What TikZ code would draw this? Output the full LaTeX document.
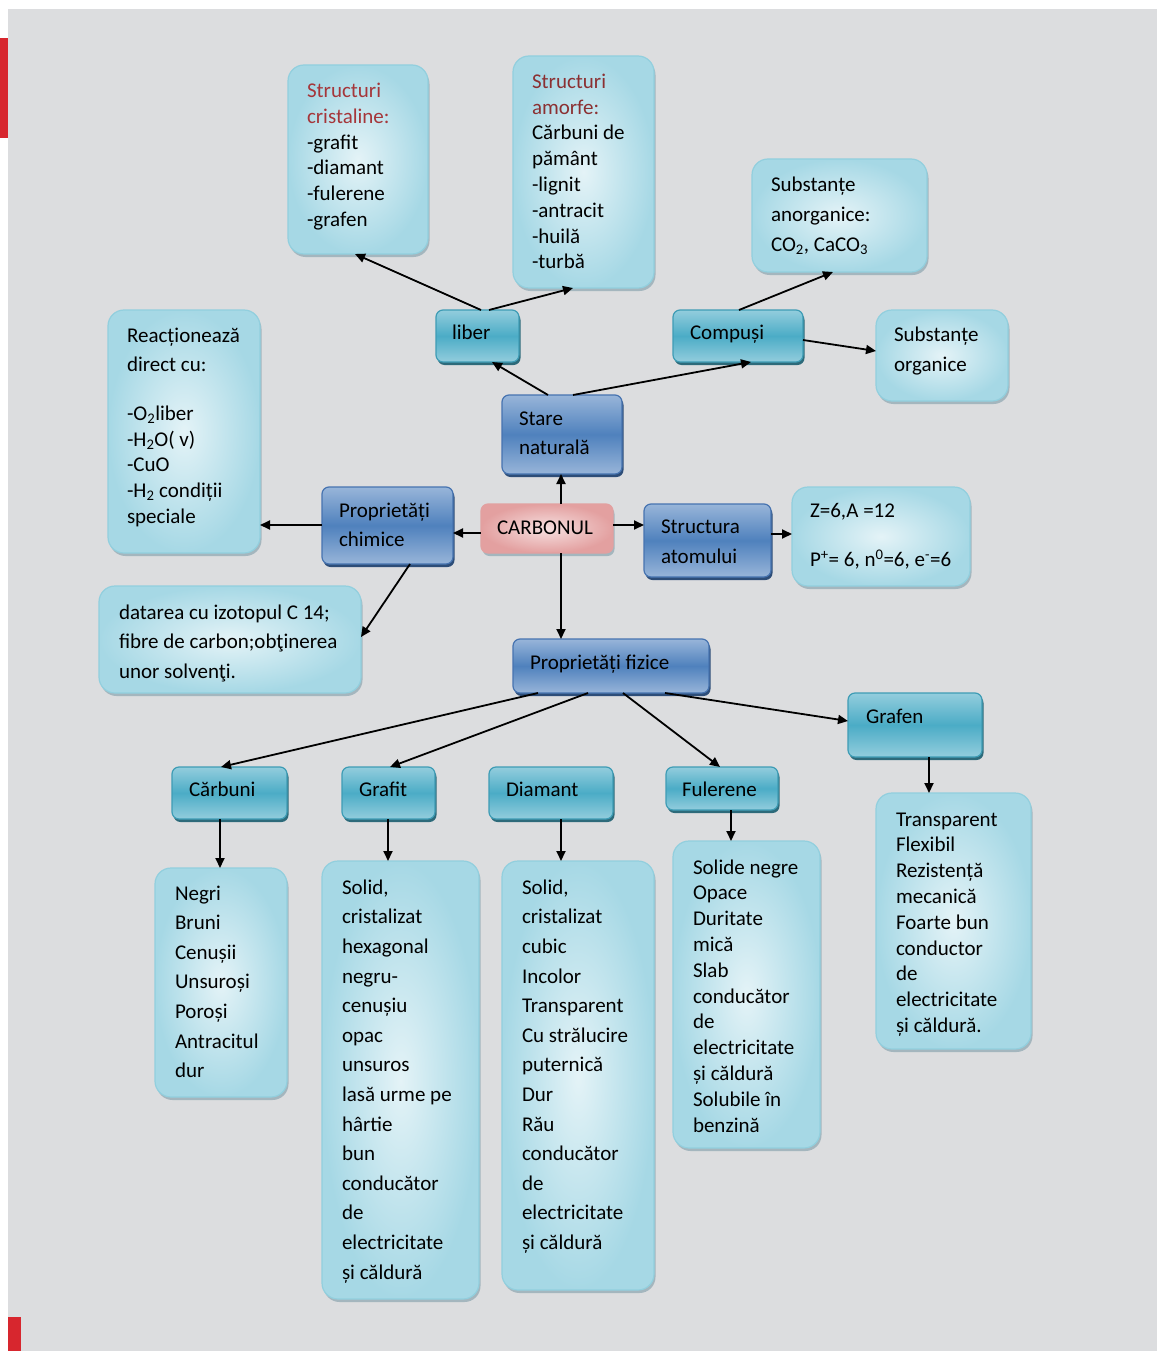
\documentclass[tikz,border=0pt]{standalone}
\usepackage{fontspec}
\setmainfont{Carlito}
\usetikzlibrary{arrows.meta,calc,shadows}
\definecolor{bgc}{HTML}{DCDDDF}
\definecolor{redbar}{HTML}{D7262E}
\definecolor{infoB}{HTML}{92CFDE}
\definecolor{infoIn}{HTML}{E4F3F7}
\definecolor{infoOut}{HTML}{A6D8E5}
\definecolor{infoSh}{HTML}{A4B6BE}
\definecolor{catB}{HTML}{3E9CB5}
\definecolor{catL}{HTML}{93CDDD}
\definecolor{catM}{HTML}{4BACC6}
\definecolor{catSh}{HTML}{2D6A7A}
\definecolor{bluB}{HTML}{4673B0}
\definecolor{bluL}{HTML}{98B5D9}
\definecolor{bluM}{HTML}{4F81BD}
\definecolor{bluSh}{HTML}{2D4D78}
\definecolor{pinkB}{HTML}{E2A0A0}
\definecolor{pinkIn}{HTML}{F6E0E0}
\definecolor{pinkOut}{HTML}{E3A0A0}
\definecolor{redA}{HTML}{A5363A}
\definecolor{redB}{HTML}{8B3032}
\newcommand{\mybox}[6]{\node[#1, minimum width={#5-#3}, minimum height={#6-#4}] (#2) at ({(#3+#5)/2},{(#4+#6)/2}) {};}
\newcommand{\tl}[1]{\begin{tabular}[t]{@{}l@{}}#1\end{tabular}}
\begin{document}
\begin{tikzpicture}[x=1pt,y=-1pt,
  box/.style={draw, inner sep=0pt, outer sep=0pt, line width=1.2pt},
  info/.style={box, rounded corners=16pt, draw=infoB, inner color=infoIn, outer color=infoOut,
    drop shadow={shadow xshift=1.5pt, shadow yshift=-3pt, fill=infoSh, opacity=1}},
  cat/.style={box, rounded corners=7pt, draw=catB, top color=catL, bottom color=catL, middle color=catM,
    drop shadow={shadow xshift=1.5pt, shadow yshift=-3pt, fill=catSh, opacity=1}},
  blu/.style={box, rounded corners=7pt, draw=bluB, top color=bluL, bottom color=bluL, middle color=bluM,
    drop shadow={shadow xshift=1.5pt, shadow yshift=-3pt, fill=bluSh, opacity=1}},
  pnk/.style={box, rounded corners=7pt, draw=pinkB, inner color=pinkIn, outer color=pinkOut,
    drop shadow={shadow xshift=1.5pt, shadow yshift=-3pt, fill=infoSh, opacity=1}},
  txt/.style={anchor=base west, inner sep=0pt, outer sep=0pt, font=\fontsize{21}{25.8}\selectfont},
  txtw/.style={txt, font=\fontsize{21}{29.6}\selectfont},
  arr/.style={-{Triangle[length=10pt,width=9pt]}, line width=1.8pt, black}]
\useasboundingbox (0,0) rectangle (1157,1351);
\fill[white] (0,0) rectangle (1157,1351);
\fill[bgc] (8,9) rectangle (1157,1351);
\fill[redbar] (0,38) rectangle (8,138);
\fill[redbar] (8,1317) rectangle (21,1351);

% boxes
\mybox{info}{cris}{288}{65}{428}{254}
\mybox{info}{amor}{513}{56}{654}{288}
\mybox{info}{anorg}{752}{159}{927}{272}
\mybox{cat}{liber}{436}{310}{519}{362}
\mybox{cat}{comp}{673}{310}{803}{362}
\mybox{info}{org}{876}{310}{1008}{401}
\mybox{info}{react}{108}{310}{260}{553}
\mybox{blu}{stare}{502}{395}{622}{474}
\mybox{blu}{chim}{322}{487}{453}{564}
\mybox{pnk}{carb}{481}{504}{613}{553}
\mybox{blu}{struct}{644}{504}{771}{577}
\mybox{info}{zbox}{792}{487}{970}{586}
\mybox{info}{dat}{99}{586}{361}{693}
\mybox{blu}{fiz}{513}{639}{709}{693}
\mybox{cat}{grafen}{848}{693}{982}{757}
\mybox{cat}{carbuni}{172}{767}{287}{819}
\mybox{cat}{grafit}{342}{767}{435}{819}
\mybox{cat}{diam}{489}{767}{613}{819}
\mybox{cat}{ful}{666}{767}{778}{810}
\mybox{info}{carbuniI}{155}{868}{287}{1097}
\mybox{info}{grafitI}{322}{861}{479}{1299}
\mybox{info}{diamI}{502}{861}{654}{1290}
\mybox{info}{fulI}{673}{841}{820}{1148}
\mybox{info}{grafenI}{876}{793}{1031}{1049}

% texts
\node[txt] (cris-t) at (307,97.5) {\tl{\textcolor{redA}{Structuri}\\\textcolor{redA}{cristaline:}\\-grafit\\-diamant\\-fulerene\\-grafen}};
\node[txt] (amor-t) at (532,88.3) {\tl{\textcolor{redB}{Structuri}\\\textcolor{redB}{amorfe:}\\Cărbuni de\\pământ\\-lignit\\-antracit\\-huilă\\-turbă}};
\node[txt, font=\fontsize{21}{30}\selectfont] (anorg-t) at (771,191.7) {\tl{Substanțe\\anorganice:\\CO\textsubscript{2}, CaCO\textsubscript{3}}};
\node[txt] (liber-t) at (452,339.3) {liber};
\node[txt] (comp-t) at (690,339) {Compuși};
\node[txt, font=\fontsize{21}{30}\selectfont] (org-t) at (894,341) {\tl{Substanțe\\organice}};
\node[txt, font=\fontsize{21}{25.6}\selectfont] (react-t) at (127,342.7) {\tl{Reacționează\\[3.4pt]direct cu:\\[23.4pt]-O\textsubscript{2}liber\\-H\textsubscript{2}O( v)\\-CuO\\-H\textsubscript{2} condiții\\speciale}};
\node[txt, font=\fontsize{21}{29.4}\selectfont] (stare-t) at (519,425) {\tl{Stare\\naturală}};
\node[txt, font=\fontsize{21}{29.4}\selectfont] (chim-t) at (339,517.3) {\tl{Proprietăți\\chimice}};
\node[txt] (carb-t) at (497,534) {CARBONUL};
\node[txt, font=\fontsize{21}{30}\selectfont] (struct-t) at (661,533.3) {\tl{Structura\\atomului}};
\node[txt, font=\fontsize{21}{49.4}\selectfont] (zbox-t) at (810,517.3) {\tl{Z=6,A =12\\P\textsuperscript{+}= 6, n\textsuperscript{0}=6, e\textsuperscript{-}=6}};
\node[txt, font=\fontsize{21}{29.5}\selectfont] (dat-t) at (119,619.3) {\tl{datarea cu izotopul C 14;\\fibre de carbon;obţinerea\\unor solvenţi.}};
\node[txt] (fiz-t) at (530,669) {Proprietăți fizice};
\node[txt] (grafen-t) at (866,723.3) {Grafen};
\node[txt] (carbuni-t) at (189,796.7) {Cărbuni};
\node[txt] (grafit-t) at (359,796.7) {Grafit};
\node[txt] (diam-t) at (506,796.7) {Diamant};
\node[txt] (ful-t) at (682,796.7) {Fulerene};
\node[txtw] (carbuniI-t) at (175,900) {\tl{Negri\\Bruni\\Cenușii\\Unsuroși\\Poroși\\Antracitul\\dur}};
\node[txtw] (grafitI-t) at (342,894.3) {\tl{Solid,\\cristalizat\\hexagonal\\negru-\\cenușiu\\opac\\unsuros\\lasă urme pe\\hârtie\\bun\\conducător\\de\\electricitate\\și căldură}};
\node[txtw] (diamI-t) at (522,894.3) {\tl{Solid,\\cristalizat\\cubic\\Incolor\\Transparent\\Cu strălucire\\puternică\\Dur\\Rău\\conducător\\de\\electricitate\\și căldură}};
\node[txt] (fulI-t) at (693,874) {\tl{Solide negre\\Opace\\Duritate\\mică\\Slab\\conducător\\de\\electricitate\\și căldură\\Solubile în\\benzină}};
\node[txt] (grafenI-t) at (896,826) {\tl{Transparent\\Flexibil\\Rezistență\\mecanică\\Foarte bun\\conductor\\de\\electricitate\\și căldură.}};

% connectors
\draw[arr] ($(liber.north west)+(45,0)$) -- ($(cris.south west)+(67,0)$);
\draw[arr] ($(liber.north west)+(53,0)$) -- ($(amor.south west)+(60,0)$);
\draw[arr] ($(stare.north west)+(46,0)$) -- ($(liber.south west)+(56,0)$);
\draw[arr] ($(stare.north west)+(71,0)$) -- ($(comp.south west)+(78,0)$);
\draw[arr] ($(comp.north west)+(66,0)$) -- ($(anorg.south west)+(81,0)$);
\draw[arr] ($(comp.north east)+(0,30)$) -- ($(org.north west)+(0,41)$);
\draw[arr] ($(carb.north west)+(80,0)$) -- ($(stare.south west)+(59,0)$);
\draw[arr] ($(carb.north west)+(0,29)$) -- ($(chim.north east)+(0,46)$);
\draw[arr] ($(chim.north west)+(0,38)$) -- ($(react.north east)+(0,215)$);
\draw[arr] ($(chim.south west)+(88,0)$) -- ($(dat.north east)+(0,51)$);
\draw[arr] ($(carb.north east)+(0,21)$) -- ($(struct.north west)+(0,21)$);
\draw[arr] ($(struct.north east)+(0,30)$) -- ($(zbox.north west)+(0,47)$);
\draw[arr] ($(carb.south west)+(80,0)$) -- ($(fiz.north west)+(48,0)$);
\draw[arr] ($(fiz.south west)+(25,0)$) -- ($(carbuni.north west)+(49,0)$);
\draw[arr] ($(fiz.south west)+(75,0)$) -- ($(grafit.north west)+(48,0)$);
\draw[arr] ($(fiz.south west)+(110,0)$) -- ($(ful.north west)+(54,0)$);
\draw[arr] ($(fiz.south west)+(152,0)$) -- ($(grafen.north west)+(0,28)$);
\draw[arr] ($(carbuni.south west)+(48,0)$) -- ($(carbuniI.north west)+(65,0)$);
\draw[arr] ($(grafit.south west)+(46,0)$) -- ($(grafitI.north west)+(66,0)$);
\draw[arr] ($(diam.south west)+(72,0)$) -- ($(diamI.north west)+(59,0)$);
\draw[arr] ($(ful.south west)+(65,0)$) -- ($(fulI.north west)+(58,0)$);
\draw[arr] ($(grafen.south west)+(81,0)$) -- ($(grafenI.north west)+(53,0)$);
\end{tikzpicture}
\end{document}
